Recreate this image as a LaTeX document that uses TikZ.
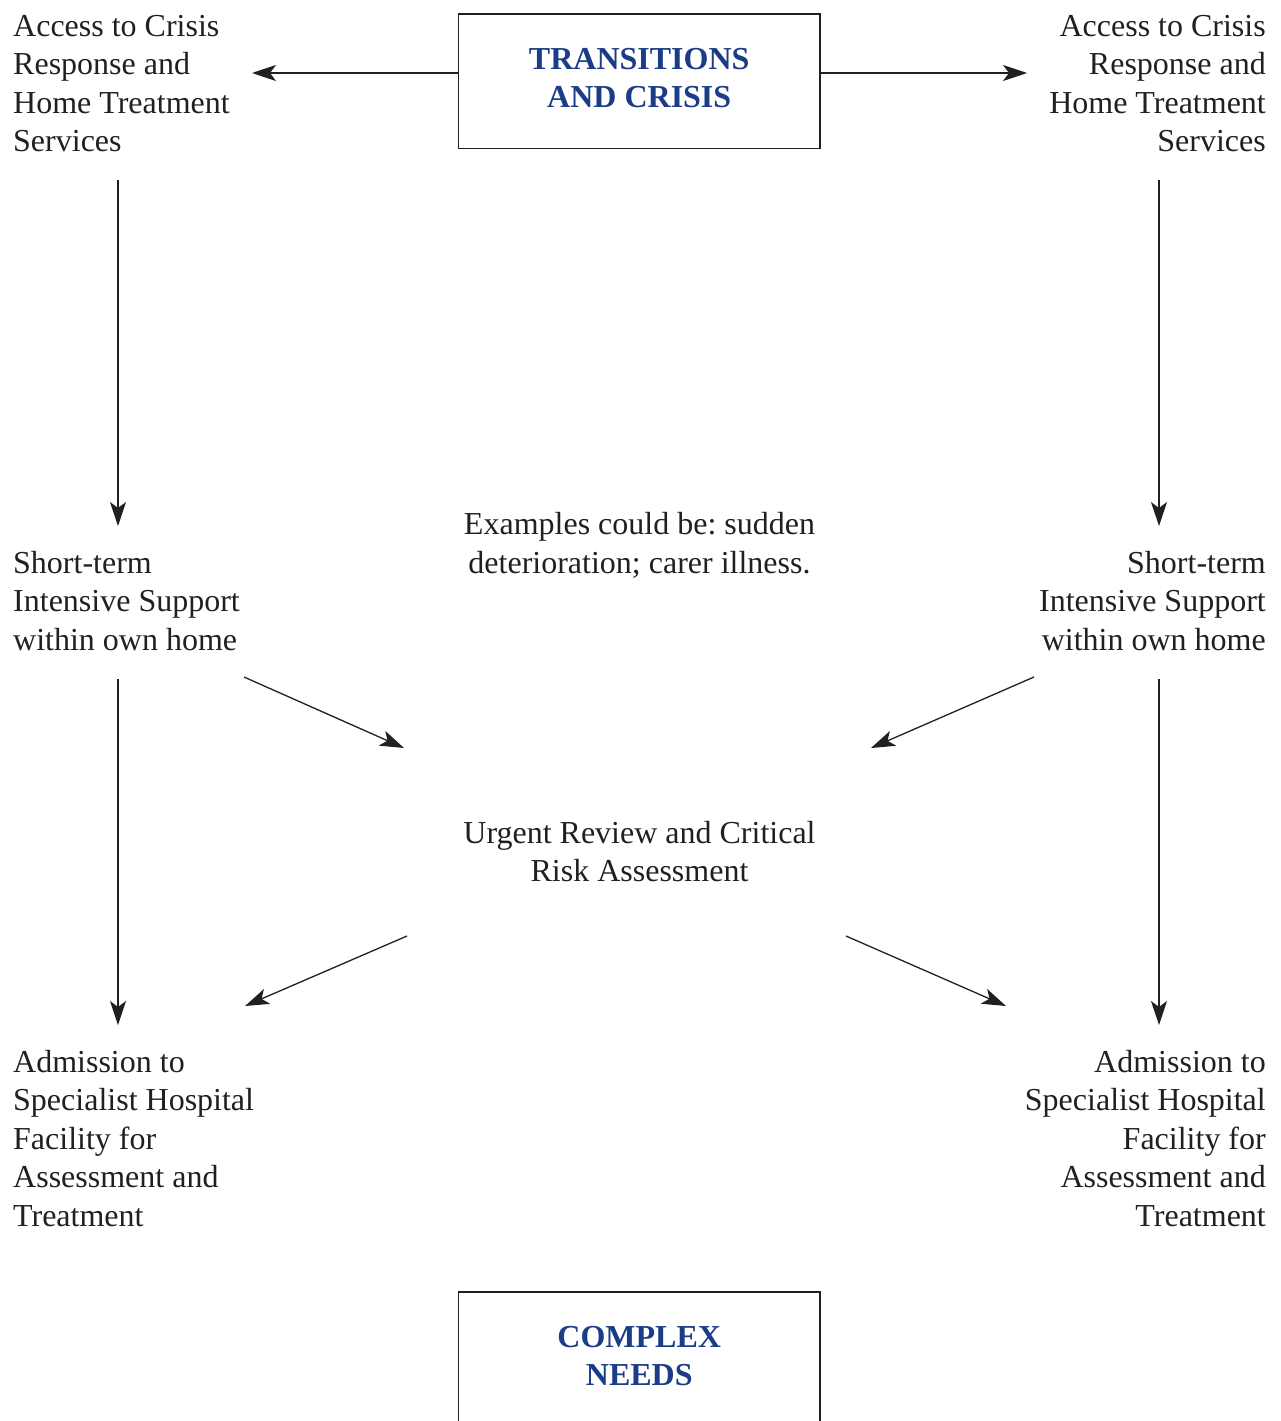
\documentclass[tikz,border=0pt]{standalone}
\usepackage{fontspec}
\setmainfont{Liberation Serif}
\usetikzlibrary{arrows.meta}
\frenchspacing
\definecolor{ink}{HTML}{231F20}
\definecolor{titleblue}{HTML}{1B3D87}
\tikzset{
  txt/.style={inner sep=0pt, text=ink, font=\fontsize{32}{38.5}\selectfont},
  titlebox/.style={draw=ink, line width=1.4pt, minimum width=361.5pt, minimum height=134.5pt, inner sep=0pt, align=center, text=titleblue, font=\fontsize{32}{38.5}\selectfont\bfseries},
  arr/.style={draw=ink, line width=1.3pt, -{Stealth[length=24pt,width=16pt,inset=6pt]}}
}
\begin{document}
\begin{tikzpicture}[x=1pt,y=-1pt]
\useasboundingbox (0,0) rectangle (1281,1421);
\clip (0,0) rectangle (1281,1421);
% boxes
\node[titlebox] (top) at (639.25,81.25) {TRANSITIONS\\AND CRISIS\vphantom{g}};
\node[titlebox] (bot) at (639.25,1359.25) {COMPLEX\\NEEDS\vphantom{g}};
% texts (anchor = baseline of last line)
\node[txt, anchor=base west, align=left] (tl) at (13,151.5) {Access to Crisis\\Response and\\Home Treatment\\Services};
\node[txt, anchor=base east, align=right] (tr) at (1266,151.5) {Access to Crisis\\Response and\\Home Treatment\\Services};
\node[txt, anchor=base, align=center] (ex) at (639.5,573) {Examples could be: sudden\\deterioration; carer illness.};
\node[txt, anchor=base west, align=left] (sl) at (13,650) {Short-term\\Intensive Support\\within own home};
\node[txt, anchor=base east, align=right] (sr) at (1266,650) {Short-term\\Intensive Support\\within own home};
\node[txt, anchor=base, align=center] (ur) at (639.5,881.5) {Urgent Review and Critical\\Risk Assessment};
\node[txt, anchor=base west, align=left] (al) at (13,1226) {Admission to\\Specialist Hospital\\Facility for\\Assessment and\\Treatment};
\node[txt, anchor=base east, align=right] (ar) at (1266,1226) {Admission to\\Specialist Hospital\\Facility for\\Assessment and\\Treatment};
% connector end points
\coordinate (hL) at (252,73);
\coordinate (hR) at (1027,73);
\coordinate (tlS) at (118,180);  \coordinate (slN) at (118,526);
\coordinate (trS) at (1159,180); \coordinate (srN) at (1159,526);
\coordinate (slS) at (118,679);  \coordinate (alN) at (118,1025);
\coordinate (srS) at (1159,679); \coordinate (arN) at (1159,1025);
\coordinate (slE) at (244,677);  \coordinate (urNW) at (404,748);
\coordinate (srW) at (1034,677); \coordinate (urNE) at (871,748);
\coordinate (urSW) at (407,936); \coordinate (alE) at (245,1006);
\coordinate (urSE) at (846,936); \coordinate (arW) at (1006,1006);
% connectors
\draw[arr] ([yshift=8.25pt]top.west) -- (hL);
\draw[arr] ([yshift=8.25pt]top.east) -- (hR);
\draw[arr] (tlS) -- (slN);
\draw[arr] (trS) -- (srN);
\draw[arr] (slS) -- (alN);
\draw[arr] (srS) -- (arN);
\draw[arr] (slE) -- (urNW);
\draw[arr] (srW) -- (urNE);
\draw[arr] (urSW) -- (alE);
\draw[arr] (urSE) -- (arW);
\end{tikzpicture}
\end{document}
